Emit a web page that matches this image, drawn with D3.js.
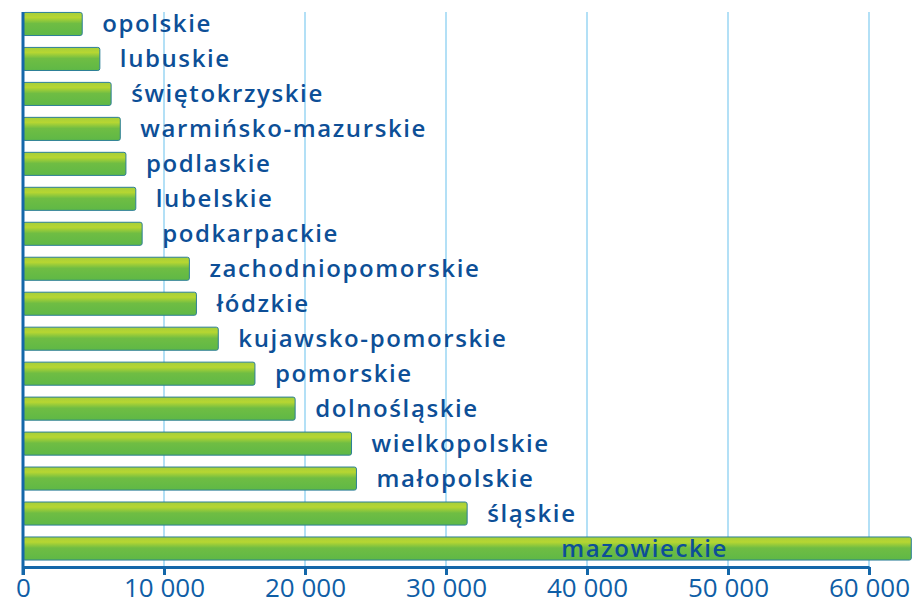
<!DOCTYPE html>
<html lang="pl">
  <head>
    <meta charset="UTF-8">
    <title>Województwa</title>
    <style>
      body {
        margin: 0;
        background: #fff;
        font-family: 'Open Sans', 'Noto Sans', sans-serif;
      }
    </style>
  </head>
  <body>
    <div id="chart"></div>

    <script src="https://cdn.jsdelivr.net/npm/d3@7/dist/d3.min.js"></script>
    <script>
      const regions = [
        'opolskie', 'lubuskie', 'świętokrzyskie', 'warmińsko-mazurskie',
        'podlaskie', 'lubelskie', 'podkarpackie', 'zachodniopomorskie',
        'łódzkie', 'kujawsko-pomorskie', 'pomorskie', 'dolnośląskie',
        'wielkopolskie', 'małopolskie', 'śląskie', 'mazowieckie'
      ];
      const values = [
        4200, 5450, 6250, 6900,
        7300, 8000, 8450, 11800,
        12300, 13850, 16450, 19300,
        23300, 23650, 31500, 63000
      ];
      const ticks = [0, 10000, 20000, 30000, 40000, 50000, 60000];

      const width = 917;
      const height = 608;
      const x0 = 23;
      const axisY = 567;

      const svg = d3.select('#chart').append('svg')
        .attr('width', width)
        .attr('height', height);

      const defs = svg.append('defs');
      const grad = defs.append('linearGradient')
        .attr('id', 'barGrad')
        .attr('x1', 0).attr('y1', 0).attr('x2', 0).attr('y2', 1);
      grad.append('stop').attr('offset', '0%').attr('stop-color', '#a6cf3a');
      grad.append('stop').attr('offset', '22%').attr('stop-color', '#b6d632');
      grad.append('stop').attr('offset', '48%').attr('stop-color', '#6fbd43');
      grad.append('stop').attr('offset', '100%').attr('stop-color', '#5fb846');

      const x = d3.scaleLinear()
        .domain([0, 60000])
        .range([x0, 869]);

      const y = d3.scaleBand()
        .domain(regions)
        .range([6.5, 566])
        .paddingInner(0.34)
        .paddingOuter(0.17);

      // grid lines
      svg.append('g')
        .selectAll('line')
        .data(ticks.slice(1))
        .join('line')
        .attr('x1', d => x(d))
        .attr('x2', d => x(d))
        .attr('y1', 12)
        .attr('y2', axisY)
        .attr('stroke', '#b3e0f6')
        .attr('stroke-width', 2);

      // bars
      svg.append('g')
        .selectAll('rect')
        .data(values)
        .join('rect')
        .attr('x', x0)
        .attr('y', (d, i) => y(regions[i]))
        .attr('width', d => x(d) - x0)
        .attr('height', y.bandwidth())
        .attr('rx', 2)
        .attr('fill', 'url(#barGrad)')
        .attr('stroke', '#2c7f97')
        .attr('stroke-width', 1);

      // x axis
      const xAxis = d3.axisBottom(x)
        .tickValues(ticks)
        .tickSize(8)
        .tickSizeOuter(0)
        .tickFormat(d => d3.format(',')(d).replace(/,/g, ' '));

      const gx = svg.append('g')
        .attr('transform', `translate(0,${axisY})`)
        .call(xAxis);
      gx.select('.domain').attr('stroke', '#1467a9').attr('stroke-width', 3);
      gx.selectAll('.tick line').attr('stroke', '#1467a9').attr('stroke-width', 3);
      gx.selectAll('.tick text')
        .attr('y', 12)
        .attr('fill', '#0f5ea6')
        .style('font-family', "'Open Sans', sans-serif")
        .style('font-size', '26px');

      // y axis line
      svg.append('line')
        .attr('x1', x0).attr('x2', x0)
        .attr('y1', 12).attr('y2', axisY + 8)
        .attr('stroke', '#1467a9')
        .attr('stroke-width', 3);

      // labels
      svg.append('g')
        .selectAll('text')
        .data(values)
        .join('text')
        .attr('x', (d, i) => i === values.length - 1 ? x(50000) : x(d) + 20)
        .attr('y', (d, i) => y(regions[i]) + y.bandwidth() / 2)
        .attr('dy', '0.35em')
        .attr('text-anchor', (d, i) => i === values.length - 1 ? 'end' : 'start')
        .attr('fill', '#0d4f97')
        .style('font-family', "'Open Sans', sans-serif")
        .style('font-weight', 600)
        .style('font-size', '24px')
        .style('letter-spacing', '1.6px')
        .text((d, i) => regions[i]);
    </script>
  </body>
</html>
